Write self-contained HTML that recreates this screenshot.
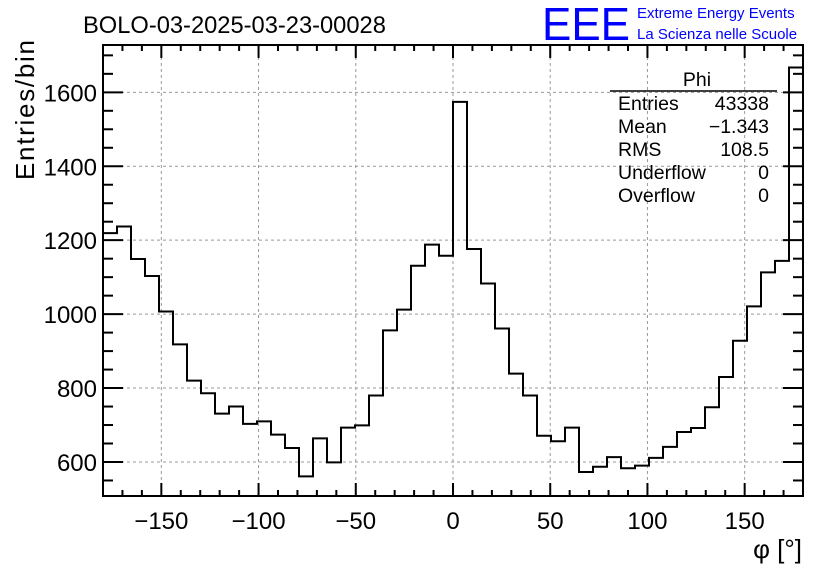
<!DOCTYPE html>
<html><head><meta charset="utf-8"><style>
body{margin:0;background:#fff;width:836px;height:572px;overflow:hidden;font-family:"Liberation Sans",sans-serif}
svg text{font-family:"Liberation Sans",sans-serif}
</style></head><body>
<svg id="c" width="836" height="572">
<text x="83" y="33" font-size="23.7">BOLO-03-2025-03-23-00028</text>
<text x="542" y="40" font-size="46" fill="#0000ff" textLength="88" lengthAdjust="spacingAndGlyphs">EEE</text>
<text x="637" y="18" font-size="15" fill="#0000ff">Extreme Energy Events</text>
<text x="637" y="39" font-size="15" fill="#0000ff">La Scienza nelle Scuole</text>
<g id="grid"></g>
<g id="ticks"></g>
<path id="hist" fill="none" stroke="#000" stroke-width="2"/>
<rect x="103" y="45" width="700" height="451" fill="none" stroke="#000" stroke-width="2"/>
<g font-size="19.5">
<text x="697" y="86" text-anchor="middle">Phi</text>
<line x1="610" y1="91" x2="777" y2="91" stroke="#000" stroke-width="1.5"/>
<text x="618" y="110">Entries</text><text x="769" y="110" text-anchor="end">43338</text>
<text x="618" y="133">Mean</text><text x="769" y="133" text-anchor="end">−1.343</text>
<text x="618" y="156">RMS</text><text x="769" y="156" text-anchor="end">108.5</text>
<text x="618" y="179">Underflow</text><text x="769" y="179" text-anchor="end">0</text>
<text x="618" y="202">Overflow</text><text x="769" y="202" text-anchor="end">0</text>
</g>
<text transform="translate(34,180) rotate(-90)" font-size="26" textLength="140">Entries/bin</text>
<text x="802" y="558" font-size="26" text-anchor="end">φ [°]</text>
</svg>
<script>
const counts=[1219,1237,1149,1103,1007,918,820,786,731,750,703,710,674,638,561,664,599,693,699,780,956,1012,1131,1188,1158,1574,1176,1083,961,839,780,671,656,693,573,587,613,583,590,611,641,681,692,748,830,928,1021,1113,1144,1667];
const xTicks=[-150,-100,-50,0,50,100,150];
const yTicks=[600,800,1000,1200,1400,1600];
const xMin=-180,xMax=180,yMin=508,yMax=1728;
const L=103,R=803,T=45,B=496;
const sx=v=>L+(v-xMin)/(xMax-xMin)*(R-L);
const sy=v=>B-(v-yMin)/(yMax-yMin)*(B-T);
const NS="http://www.w3.org/2000/svg";
function mk(t,a,p){const e=document.createElementNS(NS,t);for(const k in a)e.setAttribute(k,a[k]);p.appendChild(e);return e;}
const grid=document.getElementById('grid'),tk=document.getElementById('ticks');
xTicks.forEach(v=>{const l=mk('line',{x1:sx(v),x2:sx(v),y1:T,y2:B,stroke:'#999','stroke-dasharray':'3,3'},grid);


const t=mk('text',{x:sx(v),y:529,'font-size':24,'text-anchor':'middle'},tk);t.textContent=v<0?'−'+(-v):v;

});
yTicks.forEach(v=>{const l=mk('line',{x1:L,x2:R,y1:sy(v),y2:sy(v),stroke:'#999','stroke-dasharray':'3,3'},grid);


const t=mk('text',{x:97,y:sy(v)+9,'font-size':24,'text-anchor':'end'},tk);t.textContent=v;

});
for(let v=-180;v<=180;v+=10){const len=(v%50===0)?13:6;
mk('line',{x1:sx(v),x2:sx(v),y1:B,y2:B-len,stroke:'#000','stroke-width':2},tk);
mk('line',{x1:sx(v),x2:sx(v),y1:T,y2:T+len,stroke:'#000','stroke-width':2},tk);}
for(let v=550;v<=1700;v+=50){const len=(v%200===0)?20:10;
mk('line',{x1:L,x2:L+len,y1:sy(v),y2:sy(v),stroke:'#000','stroke-width':2},tk);
mk('line',{x1:R,x2:R-len,y1:sy(v),y2:sy(v),stroke:'#000','stroke-width':2},tk);}
const w=(xMax-xMin)/counts.length;let d='';
counts.forEach((c,i)=>{const x0=sx(xMin+i*w),x1=sx(xMin+(i+1)*w),y=sy(c);
d+=(i===0?'M'+x0+','+y:'L'+x0+','+y)+'L'+x1+','+y;});
d+='L'+R+','+B;
document.getElementById('hist').setAttribute('d',d);
</script>
</body></html>
